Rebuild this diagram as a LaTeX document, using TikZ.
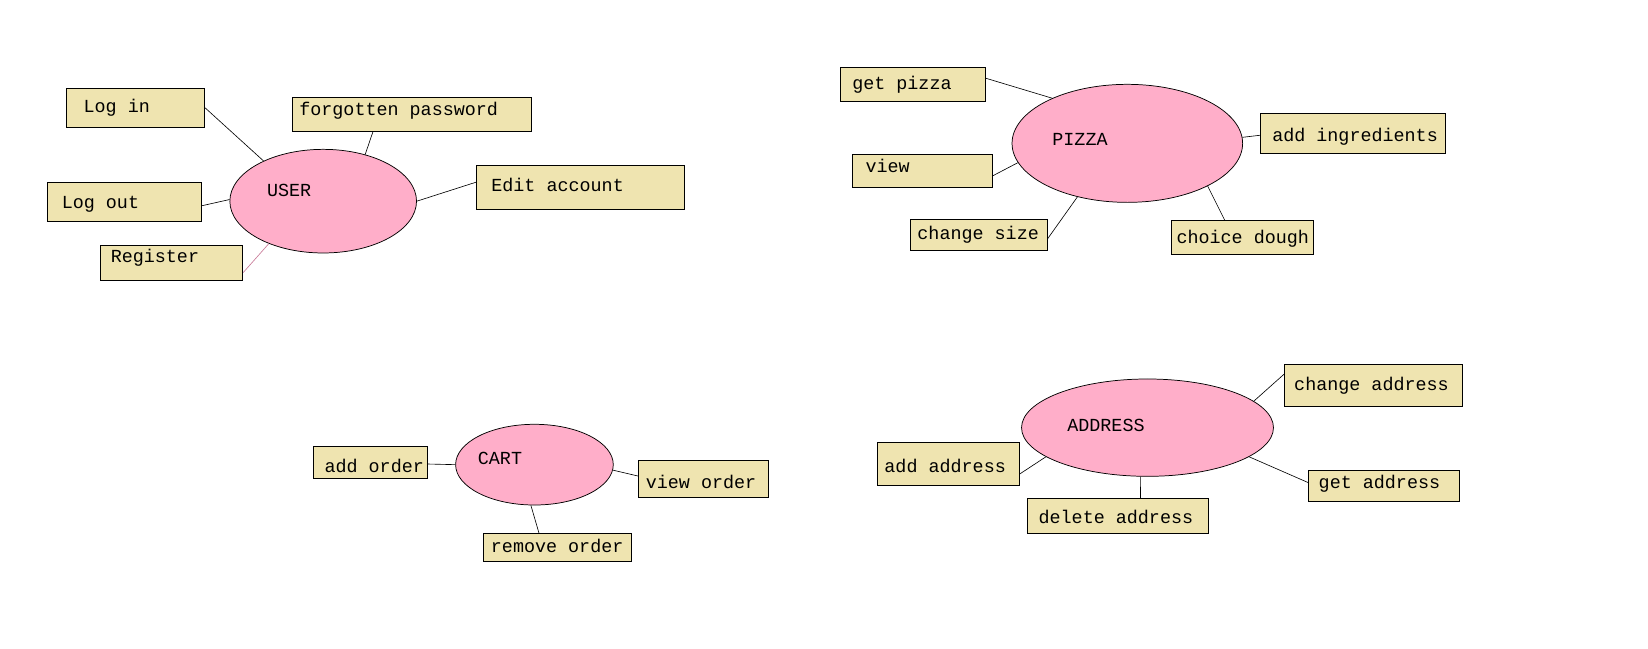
\documentclass[tikz,border=0pt]{standalone}
\usepackage{fontspec}
\setmonofont{Liberation Mono}
\usetikzlibrary{shapes.geometric}
\definecolor{boxfill}{RGB}{239,228,176}
\definecolor{ellfill}{RGB}{255,174,201}
\definecolor{regline}{RGB}{200,120,150}
\begin{document}
\begin{tikzpicture}[x=1pt,y=-1pt,
  usecase/.style={ellipse, draw=black, fill=ellfill, line width=0.7pt, inner sep=0pt},
  actbox/.style={rectangle, draw=black, fill=boxfill, line width=0.8pt, inner sep=0pt},
  lbl/.style={anchor=base west, inner sep=0pt, font=\ttfamily\fontsize{17.5}{20}\selectfont},
  link/.style={draw=black, line width=0.6pt}]
\useasboundingbox (0,0) rectangle (1568,617);
\fill[white] (0,0) rectangle (1568,617);

% ---------- USER ----------
\node[usecase, minimum width=177.6pt, minimum height=98.6pt] (user) at (307.5,191.4) {};
\node[actbox, minimum width=131.7pt, minimum height=37.2pt] (login) at (128.9,102.6) {};
\node[actbox, minimum width=227.2pt, minimum height=32.1pt] (fp) at (391.9,108.7) {};
\node[actbox, minimum width=198pt, minimum height=41.3pt] (edit) at (552.5,178.3) {};
\node[actbox, minimum width=146.7pt, minimum height=36.5pt] (logout) at (118.6,192.1) {};
\node[actbox, minimum width=135.3pt, minimum height=33.6pt] (register) at (163.3,249.9) {};
\node[lbl] (t-user) at (253.9,187) {USER};
\node[lbl] (t-login) at (79.4,107) {Log in};
\node[lbl] (t-fp) at (284.6,110) {forgotten password};
\node[lbl] (t-edit) at (467.3,182) {Edit account};
\node[lbl] (t-logout) at (58.6,198) {Log out};
\node[lbl] (t-register) at (105.2,250) {Register};
\draw[link] (login.east) -- (user.146);
\draw[link] ([xshift=-37pt]fp.south) -- (user.48);
\draw[link] ([yshift=5pt]edit.west) -- (user.0);
\draw[link] ([yshift=-3.6pt]logout.east) -- (user.179);
\draw[link, draw=regline] ([yshift=-9.5pt]register.east) -- (user.218);

% ---------- PIZZA ----------
\node[usecase, minimum width=219.4pt, minimum height=112.3pt] (pizza) at (1072.6,136.4) {};
\node[actbox, minimum width=137.7pt, minimum height=32.3pt] (getpizza) at (868.9,80.2) {};
\node[actbox, minimum width=176.2pt, minimum height=37.8pt] (ingr) at (1287.3,126.7) {};
\node[actbox, minimum width=133.8pt, minimum height=31.4pt] (view) at (877.6,162.5) {};
\node[actbox, minimum width=130pt, minimum height=29.8pt] (changesize) at (931.2,223.6) {};
\node[actbox, minimum width=135pt, minimum height=32.4pt] (dough) at (1182.1,225.8) {};
\node[lbl] (t-pizza) at (1001.1,138) {PIZZA};
\node[lbl] (t-getpizza) at (810.7,85) {get pizza};
\node[lbl] (t-ingr) at (1210.3,134.8) {add ingredients};
\node[lbl] (t-view) at (823.4,164) {view};
\node[lbl] (t-changesize) at (872.7,228) {change size};
\node[lbl] (t-dough) at (1119.2,232) {choice dough};
\draw[link] ([yshift=5.7pt]getpizza.east) -- (pizza.149);
\draw[link] (pizza.3) -- ([yshift=-2pt]ingr.west);
\draw[link] ([yshift=-4.6pt]view.east) -- (pizza.190);
\draw[link] ([yshift=-3.8pt]changesize.east) -- (pizza.227);
\draw[link] ([xshift=-17pt]dough.north) -- (pizza.332);

% ---------- CART ----------
\node[usecase, minimum width=150pt, minimum height=76.8pt] (cart) at (508.5,442.1) {};
\node[actbox, minimum width=108.8pt, minimum height=30.7pt] (addorder) at (352.5,439.8) {};
\node[actbox, minimum width=123.7pt, minimum height=35.2pt] (vieworder) at (669.2,455.6) {};
\node[actbox, minimum width=140.5pt, minimum height=26.3pt] (removeorder) at (530.2,520.7) {};
\node[lbl] (t-cart) at (454.5,441.8) {CART};
\node[lbl] (t-addorder) at (308.6,449.4) {add order};
\node[lbl] (t-vieworder) at (614.3,464.6) {view order};
\node[lbl] (t-removeorder) at (466.9,525.9) {remove order};
\draw[link] ([yshift=-1.7pt]addorder.east) -- (cart.180);
\draw[link] (cart.356) -- ([yshift=2.7pt]vieworder.west);
\draw[link] (cart.265) -- ([xshift=-17.4pt]removeorder.north);

% ---------- ADDRESS ----------
\node[usecase, minimum width=239.7pt, minimum height=92.6pt] (addr) at (1091.8,406.9) {};
\node[actbox, minimum width=169.3pt, minimum height=40pt] (changeaddr) at (1306.9,366.3) {};
\node[actbox, minimum width=135.4pt, minimum height=40.6pt] (addaddr) at (902.1,441.2) {};
\node[actbox, minimum width=143.5pt, minimum height=29.5pt] (getaddr) at (1316.9,462.3) {};
\node[actbox, minimum width=172.3pt, minimum height=33.3pt] (deladdr) at (1063.6,490.9) {};
\node[lbl] (t-addr) at (1015.3,410.7) {ADDRESS};
\node[lbl] (t-changeaddr) at (1231.2,371.7) {change address};
\node[lbl] (t-addaddr) at (841.3,449.7) {add address};
\node[lbl] (t-getaddr) at (1254.5,464.6) {get address};
\node[lbl] (t-deladdr) at (988,497.9) {delete address};
\draw[link] ([yshift=10.4pt]changeaddr.west) -- (addr.14);
\draw[link] ([yshift=-9.8pt]addaddr.east) -- (addr.196);
\draw[link] (addr.344) -- ([yshift=3.1pt]getaddr.west);
\draw[link] ([xshift=21.5pt]deladdr.north) -- (addr.262);
\end{tikzpicture}
\end{document}
